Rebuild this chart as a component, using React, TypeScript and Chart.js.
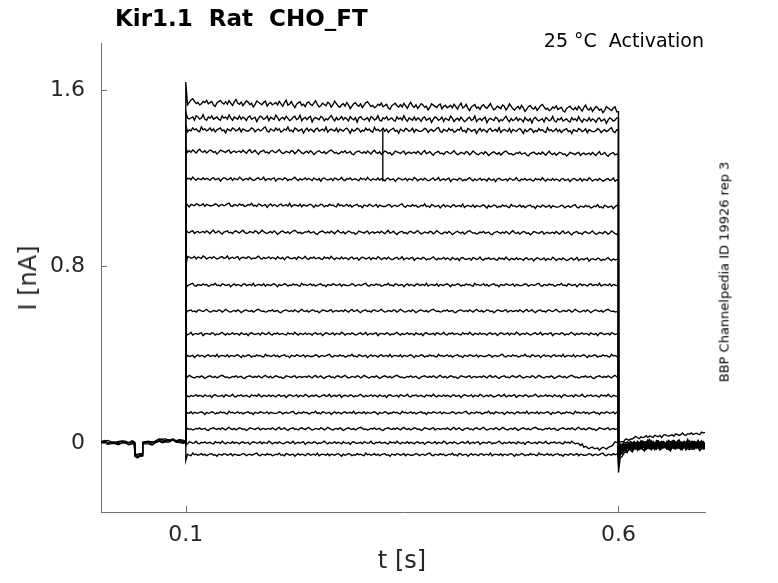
import React, { useEffect, useRef } from "react";
import { Chart, registerables } from "chart.js";

Chart.register(...registerables);

// ---------- texts ----------
const TITLE = "Kir1.1  Rat  CHO_FT";
const CONDITION = "25 °C  Activation";
const SIDE_NOTE = "BBP Channelpedia ID 19926 rep 3";
const X_LABEL = "t [s]";
const Y_LABEL = "I [nA]";

// ---------- axes ----------
const X_TICKS = [0.1, 0.6];
const X_TICK_LABELS = ["0.1", "0.6"];
const Y_TICKS = [0, 0.8, 1.6];
const Y_TICK_LABELS = ["0", "0.8", "1.6"];
const X_MIN = 0.002;
const X_MAX = 0.7;
const Y_MIN = -0.314;
const Y_MAX = 1.814;

// ---------- protocol ----------
const STEP_ON = 0.1;
const STEP_OFF = 0.6;
const SAMPLE_DT = 0.002;

// steady current of each sweep during the step (nA), top to bottom
const STEP_LEVELS = [1.545, 1.474, 1.42, 1.322, 1.197, 1.079, 0.956, 0.84, 0.716, 0.598, 0.494, 0.394, 0.299, 0.213, 0.136, 0.063, 0.0, -0.054];
// change over the step (end minus start)
const STEP_DRIFT = [-0.032, -0.01, -0.004, -0.012, -0.004, -0.008, -0.004, -0.008, 0, 0, 0, 0, 0, 0, 0, 0, 0, 0];
// value right at step onset
const ONSET_PEAK = [1.637, 1.5, 1.44, 1.34, 1.21, 1.09, 0.97, 0.8, 0.7, 0.585, 0.48, 0.385, 0.29, 0.205, 0.13, 0.055, -0.01, -0.08];
// noise size per sweep (nA per unit)
const NOISE_AMP = [0.0055, 0.005, 0.0045, 0.0035, 0.003, 0.003, 0.003, 0.0028, 0.0026, 0.0025, 0.0025, 0.0025, 0.0024, 0.0024, 0.0024, 0.0024, 0.0024, 0.0024];

// value right after step offset (capacitive dip)
const TAIL_DIP = [-0.135, -0.11, -0.1, -0.09, -0.08, -0.07, -0.06, -0.055, -0.05, -0.045, -0.04, -0.035, -0.03, -0.03, -0.025, -0.02, 0.0, -0.02];
// settled tail level per sweep
const TAIL_LEVEL = [-0.022, -0.016, -0.01, -0.004, -0.008, 0.002, -0.002, -0.014, -0.018, -0.006, 0.0, -0.012, -0.004, -0.02, -0.008, -0.012, 0.0, -0.024];
// remaining fraction of the dip at 0.602, 0.604, ... 0.700 s
const TAIL_DECAY = [0.45, 0.32, 0.25, 0.2, 0.16, 0.13, 0.11, 0.09, 0.075, 0.06, 0.05, 0.04, 0.033, 0.027, 0.022, 0.018, 0.014, 0.011, 0.008, 0.006, 0.004, 0.002, 0, 0, 0, 0, 0, 0, 0, 0, 0, 0, 0, 0, 0, 0, 0, 0, 0, 0, 0, 0, 0, 0, 0, 0, 0, 0, 0, 0];
// the one sweep whose tail slowly rises (nA) at 0.602 ... 0.700 s
const RISE_TRACE = 16;
const TAIL_RISE = [0.002, 0.005, 0.008, 0.011, 0.014, 0.016, 0.018, 0.02, 0.021, 0.022, 0.023, 0.024, 0.025, 0.026, 0.026, 0.027, 0.027, 0.028, 0.028, 0.029, 0.029, 0.03, 0.03, 0.031, 0.031, 0.032, 0.032, 0.033, 0.033, 0.034, 0.034, 0.035, 0.035, 0.036, 0.036, 0.037, 0.037, 0.038, 0.038, 0.039, 0.039, 0.04, 0.04, 0.041, 0.041, 0.042, 0.042, 0.043, 0.044, 0.045];
const TAIL_NOISE_AMP = 0.0045;

// late sag of the ~0 nA sweep, values every 4 ms from 0.552 s
const SAG_TRACE = 16;
const SAG_START = 0.552;
const SAG_STEP = 0.004;
const LATE_SAG = [-0.004, -0.01, -0.018, -0.022, -0.024, -0.025, -0.026, -0.025, -0.026, -0.022, -0.01, 0.004];

// single artefact spike
const SPIKE_TRACE = 4;
const SPIKE_T = 0.3275;
const SPIKE_PEAK = 1.418;

// pre-step baseline (shared by all sweeps)
const PRE_TIMES = [0.0, 0.006, 0.01, 0.014, 0.018, 0.022, 0.026, 0.03, 0.034, 0.038, 0.0405, 0.0412, 0.044, 0.047, 0.0495, 0.0502, 0.053, 0.057, 0.061, 0.065, 0.069, 0.073, 0.077, 0.081, 0.085, 0.089, 0.093, 0.097, 0.0995, 0.1];
const PRE_BASE = [0.0, 0.002, 0.0, -0.003, 0.001, 0.0, 0.003, 0.0, -0.002, 0.0, 0.0, -0.055, -0.058, -0.056, -0.057, -0.002, 0.002, 0.0, -0.001, 0.004, 0.008, 0.005, 0.011, 0.006, 0.013, 0.008, 0.01, 0.005, 0.003, 0.0];
const PRE_OFFSETS = [-0.005, -0.0015, 0.002, 0.005];
const PRE_NOISE_AMP = 0.002;

// hand-written noise sequences (units)
const NOISE_A = [0, 1, -1, 2, 0, -2, 1, 3, -1, 0, 2, -1, -3, 0, 1, 2, -1, 0, -2, 1, 2, 0, -1, 1, 3, 0, -2, -1, 1, 0, -1, 2, 1, -2, 0, 3, 1, -1, -2, 0, 1, -1, 2, 0, -3, -1, 1, 2, 0, -1, 1, -2, 0, 2, 3, 1, -1, 0, -2, -1, 1, 0, 2, -1, 0, 1, -2, -3, 0, 1, 2, 0, -1, 1, -1, 2, 0, -2, 1, 3, 0, -1, 1, -2, 0, 2, 1, -1, 0, -3, -1, 2, 1, 0, -1, 1, 2, -2, 0, 1, -1];
const NOISE_B = [1, -1, 0, 2, -2, 1, 0, -1, 3, 1, -2, 0, 1, -1, 2, 0, -2, -1, 1, 2, -1, 0, 3, -2, 0, 1, -1, 1, 2, -3, 0, 1, 0, -1, 2, 1, -2, 0, -1, 1, 3, 0, -2, 1, -1, 0, 2, -1, 1, 0, -2, 2, 0, -1, 1, -3, 1, 2, 0, -1, 0, 1, -2, 2, 1, -1, 0, 3, -1, -2, 1, 0, 2, -1, 0, 1, -1, -2, 2, 0, 1, -1, 3, 0, -2, 1, 0, -1, 2, -1, 1, 0, -2, 1, 2, -1, 0, 1, -3, 0, 2];
const NOISE_C = [-1, 0, 2, 1, -2, 0, 1, -1, 0, 2, 3, -1, -2, 1, 0, -1, 2, 0, 1, -2, -1, 1, 0, 3, -1, 0, -2, 2, 1, -1, 0, 1, -3, 0, 2, -1, 1, 0, -2, 1, 2, -1, 0, 1, -1, 3, -2, 0, 1, 0, -1, 2, -2, 1, 0, -1, 1, 2, 0, -3, 1, -1, 0, 2, 1, -2, 0, -1, 2, 0, 1, -1, -2, 3, 0, 1, -1, 0, 2, -1, 1, -2, 0, 1, 2, -1, 0, -3, 1, 0, -1, 2, 1, -1, 0, 2, -2, 1, 0, -1];
const NOISE_SETS = [NOISE_A, NOISE_B, NOISE_C];

const TRACE_COLOR = "#000000";
const AXIS_COLOR = "#707070";
const TEXT_COLOR = "#262626";
const FONT = "'DejaVu Sans', sans-serif";
const LINE_W = 1.35;

type Pt = { x: number; y: number };

function noiseAt(set: number[], idx: number) {
  return set[((idx % set.length) + set.length) % set.length];
}

function buildTrace(i: number): Pt[] {
  const pts: Pt[] = [];
  const set = NOISE_SETS[i % NOISE_SETS.length];
  const shift = i * 7;
  const level = STEP_LEVELS[i];
  pts.push({ x: STEP_ON, y: 0 });
  pts.push({ x: STEP_ON, y: ONSET_PEAK[i] });
  const kStart = Math.round(STEP_ON / SAMPLE_DT) + 1;
  const kEnd = Math.round(STEP_OFF / SAMPLE_DT);
  let lastY = level;
  for (let k = kStart; k < kEnd; k++) {
    const t = k * SAMPLE_DT;
    const frac = (t - STEP_ON) / (STEP_OFF - STEP_ON);
    let y = level + STEP_DRIFT[i] * frac + NOISE_AMP[i] * noiseAt(set, k + shift);
    if (i === SAG_TRACE && t >= SAG_START) {
      const si = Math.floor((t - SAG_START) / SAG_STEP + 1e-9);
      if (si < LATE_SAG.length) y += LATE_SAG[si];
    }
    pts.push({ x: t, y });
    if (i === SPIKE_TRACE && t < SPIKE_T && t + SAMPLE_DT > SPIKE_T) {
      pts.push({ x: SPIKE_T, y: y });
      pts.push({ x: SPIKE_T, y: SPIKE_PEAK });
      pts.push({ x: SPIKE_T + 0.0003, y: level - 0.01 });
    }
    lastY = y;
  }
  pts.push({ x: STEP_OFF, y: lastY });
  pts.push({ x: STEP_OFF, y: TAIL_DIP[i] });
  for (let j = 1; j <= TAIL_DECAY.length; j++) {
    const t = STEP_OFF + j * SAMPLE_DT;
    const n = noiseAt(set, kEnd + j + shift * 3);
    let y: number;
    if (i === RISE_TRACE) {
      y = TAIL_RISE[j - 1] + 0.0025 * n;
    } else {
      y = TAIL_LEVEL[i] + (TAIL_DIP[i] - TAIL_LEVEL[i]) * TAIL_DECAY[j - 1] + TAIL_NOISE_AMP * n;
    }
    pts.push({ x: t, y });
  }
  return pts;
}

function buildPre(p: number): Pt[] {
  const set = NOISE_SETS[p % NOISE_SETS.length];
  return PRE_TIMES.map((t, idx) => ({
    x: t,
    y: PRE_BASE[idx] + PRE_OFFSETS[p] + PRE_NOISE_AMP * noiseAt(set, idx + p * 11),
  }));
}

const innerTicks = {
  id: "innerTicks",
  afterDatasetsDraw(chart: any) {
    const { ctx, chartArea, scales } = chart;
    ctx.save();
    ctx.strokeStyle = AXIS_COLOR;
    ctx.lineWidth = 1;
    ctx.beginPath();
    Y_TICKS.forEach((v) => {
      const y = Math.round(scales.y.getPixelForValue(v)) + 0.5;
      ctx.moveTo(chartArea.left, y);
      ctx.lineTo(chartArea.left + 6, y);
    });
    X_TICKS.forEach((v) => {
      const x = Math.round(scales.x.getPixelForValue(v)) + 0.5;
      ctx.moveTo(x, chartArea.bottom);
      ctx.lineTo(x, chartArea.bottom - 6);
    });
    ctx.stroke();
    ctx.restore();
  },
};

export default function App() {
  const canvasRef = useRef<HTMLCanvasElement | null>(null);

  useEffect(() => {
    const canvas = canvasRef.current;
    if (!canvas) return;
    const datasets: any[] = [];
    PRE_OFFSETS.forEach((_, p) => {
      datasets.push({
        data: buildPre(p),
        borderColor: TRACE_COLOR,
        borderWidth: LINE_W,
        pointRadius: 0,
        tension: 0,
      });
    });
    STEP_LEVELS.forEach((_, i) => {
      datasets.push({
        data: buildTrace(i),
        borderColor: TRACE_COLOR,
        borderWidth: LINE_W,
        pointRadius: 0,
        tension: 0,
      });
    });

    const chart = new Chart(canvas, {
      type: "line",
      data: { datasets },
      options: {
        animation: false,
        responsive: false,
        maintainAspectRatio: false,
        devicePixelRatio: 1,
        parsing: false,
        normalized: true,
        events: [],
        layout: { padding: { top: 43, right: 73, left: 0, bottom: 0 } },
        plugins: { legend: { display: false }, tooltip: { enabled: false }, title: { display: false } },
        scales: {
          x: {
            type: "linear",
            min: X_MIN,
            max: X_MAX,
            grid: { display: false, drawTicks: false },
            border: { display: true, color: AXIS_COLOR, width: 1 },
            afterBuildTicks: (scale: any) => {
              scale.ticks = X_TICKS.map((v) => ({ value: v }));
            },
            afterFit: (scale: any) => {
              scale.height = 71;
            },
            ticks: {
              color: TEXT_COLOR,
              font: { family: FONT, size: 22 },
              padding: 10,
              maxRotation: 0,
              autoSkip: false,
              callback: (v: any) => {
                const idx = X_TICKS.findIndex((t) => Math.abs(t - Number(v)) < 1e-9);
                return idx >= 0 ? X_TICK_LABELS[idx] : "";
              },
            },
          },
          y: {
            type: "linear",
            min: Y_MIN,
            max: Y_MAX,
            grid: { display: false, drawTicks: false },
            border: { display: true, color: AXIS_COLOR, width: 1 },
            afterBuildTicks: (scale: any) => {
              scale.ticks = Y_TICKS.map((v) => ({ value: v }));
            },
            afterFit: (scale: any) => {
              scale.width = 101;
            },
            ticks: {
              color: TEXT_COLOR,
              font: { family: FONT, size: 22 },
              padding: 16,
              autoSkip: false,
              callback: (v: any) => {
                const idx = Y_TICKS.findIndex((t) => Math.abs(t - Number(v)) < 1e-9);
                return idx >= 0 ? Y_TICK_LABELS[idx] : "";
              },
            },
          },
        },
      } as any,
      plugins: [innerTicks],
    });
    return () => chart.destroy();
  }, []);

  const base: React.CSSProperties = {
    position: "absolute",
    fontFamily: FONT,
    color: TEXT_COLOR,
    whiteSpace: "pre",
    margin: 0,
  };

  return (
    <div style={{ position: "absolute", left: 0, top: 0, width: 778, height: 583, background: "#ffffff", overflow: "hidden" }}>
      <canvas ref={canvasRef} width={778} height={583} style={{ position: "absolute", left: 0, top: 0, width: 778, height: 583 }} />
      <div style={{ ...base, left: 115, top: 6.5, fontSize: 23, lineHeight: "23px", fontWeight: "bold", color: "#000" }}>{TITLE}</div>
      <div style={{ ...base, right: 74, top: 31, fontSize: 19, lineHeight: "19px", color: "#000" }}>{CONDITION}</div>
      <div style={{ ...base, left: 402, top: 548, fontSize: 24, lineHeight: "24px", transform: "translateX(-50%)" }}>{X_LABEL}</div>
      <div style={{ ...base, left: 28, top: 278, fontSize: 24, lineHeight: "24px", transform: "translate(-50%, -50%) rotate(-90deg)" }}>{Y_LABEL}</div>
      <div style={{ ...base, left: 723.5, top: 272, fontSize: 13, lineHeight: "13px", color: "#000", transform: "translate(-50%, -50%) rotate(-90deg)" }}>{SIDE_NOTE}</div>
    </div>
  );
}
